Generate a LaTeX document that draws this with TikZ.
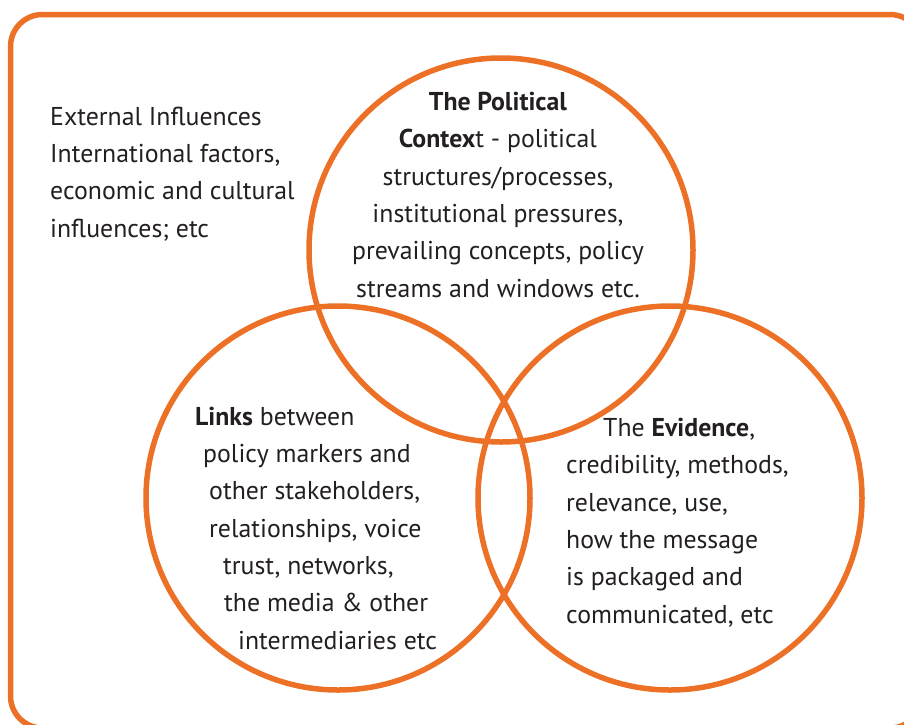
\documentclass[tikz,border=0pt]{standalone}
\usepackage{fontspec}
\setmainfont{PT Sans}
\usepackage{xcolor}
\definecolor{vennorange}{RGB}{236,113,38}
\definecolor{inktext}{RGB}{35,31,32}

\begin{document}
\begin{tikzpicture}[
    x=1pt, y=-1pt,
    venn/.style={circle, draw=vennorange, line width=5.5pt, minimum size=384pt, inner sep=0pt},
    blurb/.style={inner sep=0pt, text=inktext, align=left, font=\fontsize{25.8}{37.3}\selectfont}
]
\useasboundingbox (0,0) rectangle (904,724);

% frame
\draw[vennorange, line width=5.5pt, rounded corners=32pt] (10.5,14.5) rectangle (922,728);

% the three circles
\node[venn] (context) at (501,250) {};
\node[venn] (links) at (338,498) {};
\node[venn] (evidence) at (670,498) {};

% texts (base = baseline of the last line)
\node[blurb, anchor=base west] (external) at (50,237) {External Influences\\International factors,\\economic and cultural\\influences; etc};
\node[blurb, align=center, anchor=base] (contexttext) at (498,297) {\textbf{The Political}\\\textbf{Contex}t - political\\structures/processes,\\institutional pressures,\\prevailing concepts, policy\\streams and windows etc.};
\node[blurb, anchor=base west] (linkstext) at (195,649) {\textbf{Links} between\\\hspace*{8pt}policy markers and\\\hspace*{14pt}other stakeholders,\\\hspace*{14pt}relationships, voice\\\hspace*{28pt}trust, networks,\\\hspace*{29pt}the media \& other\\\hspace*{43pt}intermediaries etc};
\node[blurb, anchor=base west] (evidencetext) at (566,623) {\hspace*{37pt}The \textbf{Evidence},\\credibility, methods,\\relevance, use,\\how the message\\is packaged and\\communicated, etc};

\end{tikzpicture}
\end{document}
